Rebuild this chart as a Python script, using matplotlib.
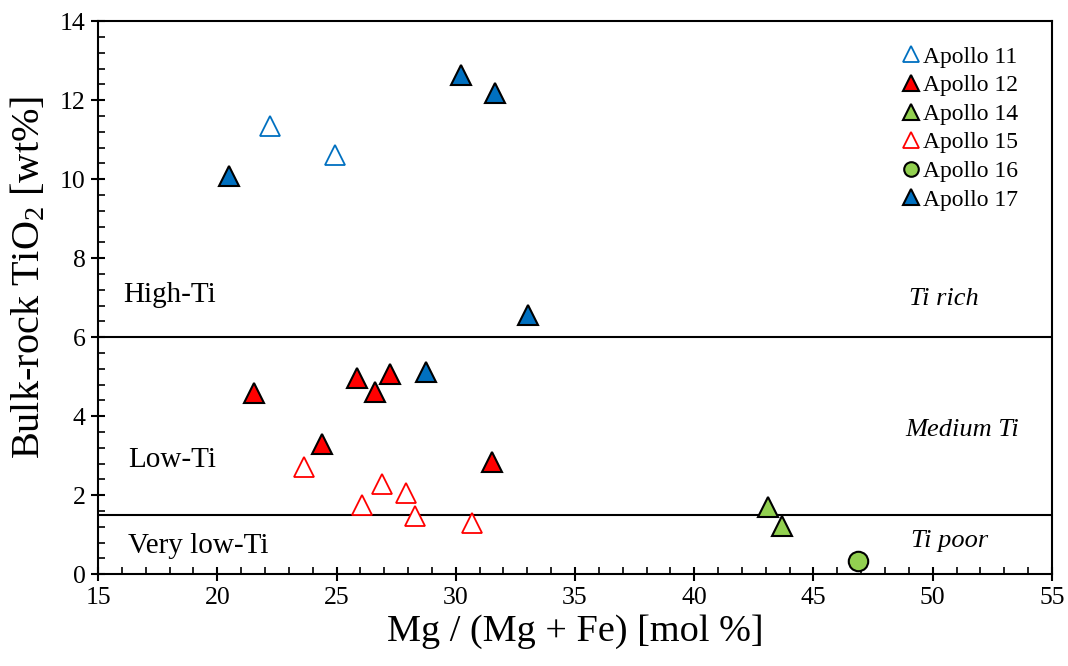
import numpy as np
import matplotlib.pyplot as plt
from matplotlib.ticker import MultipleLocator

# 数据
a11_x = [22.2, 24.95]
a11_y = [11.35, 10.62]
a12_x = [21.55, 25.85, 27.25, 26.6, 24.4, 31.5]
a12_y = [4.58, 4.96, 5.07, 4.60, 3.29, 2.83]
a14_x = [43.08, 43.67]
a14_y = [1.71, 1.22]
a15_x = [23.65, 26.92, 27.93, 26.07, 28.29, 30.69]
a15_y = [2.72, 2.29, 2.06, 1.74, 1.48, 1.29]
a16_x = [46.87]
a16_y = [0.34]
a17_x = [20.5, 30.22, 31.65, 33.03, 28.75]
a17_y = [10.09, 12.65, 12.19, 6.57, 5.12]

boundaries = [6.0, 1.5]

plt.rcParams['font.family'] = ['Liberation Serif', 'DejaVu Serif']
plt.rcParams['mathtext.fontset'] = 'custom'
plt.rcParams['mathtext.rm'] = 'Liberation Serif'
plt.rcParams['mathtext.it'] = 'Liberation Serif:italic'

fig = plt.figure(figsize=(10.68, 6.66), dpi=100)
ax = fig.add_axes([0.0918, 0.138, 0.8932, 0.830])

blue = '#0070C0'
red = '#FF0000'
green = '#92D050'

for b in boundaries:
    ax.axhline(b, color='black', lw=1.5, zorder=1)

ms = 15
ax.plot(a11_x, a11_y, '^', ms=ms, mfc='white', mec=blue, mew=1.3, ls='none', label='Apollo 11', zorder=3)
ax.plot(a12_x, a12_y, '^', ms=ms, mfc=red, mec='black', mew=1.5, ls='none', label='Apollo 12', zorder=3)
ax.plot(a14_x, a14_y, '^', ms=ms, mfc=green, mec='black', mew=1.5, ls='none', label='Apollo 14', zorder=3)
ax.plot(a15_x, a15_y, '^', ms=ms, mfc='white', mec=red, mew=1.3, ls='none', label='Apollo 15', zorder=3)
ax.plot(a16_x, a16_y, 'o', ms=14, mfc=green, mec='black', mew=1.5, ls='none', label='Apollo 16', zorder=3)
ax.plot(a17_x, a17_y, '^', ms=ms, mfc=blue, mec='black', mew=1.5, ls='none', label='Apollo 17', zorder=3)

ax.set_xlim(15, 55)
ax.set_ylim(0, 14)
ax.xaxis.set_major_locator(MultipleLocator(5))
ax.xaxis.set_minor_locator(MultipleLocator(1))
ax.yaxis.set_major_locator(MultipleLocator(2))
ax.yaxis.set_minor_locator(MultipleLocator(0.4))
ax.tick_params(which='major', direction='inout', length=10, width=1.5, labelsize=18.5, pad=4)
ax.tick_params(which='minor', direction='in', length=5, width=1.2)
for s in ax.spines.values():
    s.set_linewidth(1.5)

ax.set_xlabel('Mg / (Mg + Fe) [mol %]', fontsize=27.5, labelpad=4)
ax.set_ylabel('Bulk-rock TiO$_2$ [wt%]', fontsize=29)
ax.yaxis.set_label_coords(-0.052, 0.537)

# 区域标注
ax.text(16.05, 7.07, 'High-Ti', fontsize=21, va='center', ha='left')
ax.text(16.26, 2.89, 'Low-Ti', fontsize=21, va='center', ha='left')
ax.text(16.26, 0.72, 'Very low-Ti', fontsize=21, va='center', ha='left')
ax.text(50.47, 6.97, 'Ti rich', fontsize=19, style='italic', va='center', ha='center')
ax.text(51.23, 3.65, 'Medium Ti', fontsize=19, style='italic', va='center', ha='center')
ax.text(50.72, 0.84, 'Ti poor', fontsize=19, style='italic', va='center', ha='center')

leg = ax.legend(loc='upper right', bbox_to_anchor=(0.982, 0.985), frameon=False,
                fontsize=17, markerscale=0.75, handletextpad=0.0, labelspacing=0.3,
                handlelength=1.0, borderpad=0.2)

fig.savefig('out.png', dpi=100)
